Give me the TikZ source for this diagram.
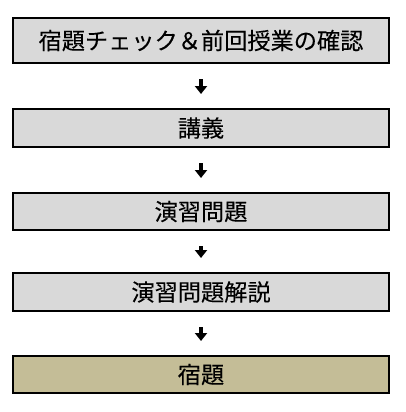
\documentclass[tikz,border=0pt]{standalone}
\usepackage{fontspec}
\newfontfamily\jpfont[FakeBold=0.15]{Noto Sans CJK JP}
\usetikzlibrary{arrows.meta, positioning}
\definecolor{stepgray}{HTML}{D9D9D9}
\definecolor{steptan}{HTML}{C4BD97}

\begin{document}
\begin{tikzpicture}[x=1pt, y=-1pt,
  stepbox/.style={draw, line width=2pt, fill=stepgray, minimum width=376pt,
    minimum height=38pt, inner sep=0pt, font=\jpfont\fontsize{23.2}{26}\selectfont},
  flow/.style={line width=4pt, -{Triangle[width=12pt, length=8pt]},
    shorten <=15pt, shorten >=14pt}
]
  \useasboundingbox (0,0) rectangle (405,412);

  % Steps
  \node[stepbox, minimum height=45pt] (check) at (201, 40.5) {宿題チェック＆前回授業の確認};
  \node[stepbox] (lecture) at (201, 128) {講義};
  \node[stepbox, minimum height=37pt] (exercise) at (201, 211.5) {演習問題};
  \node[stepbox] (review) at (201, 292) {演習問題解説};
  \node[stepbox, minimum height=37pt, fill=steptan] (homework) at (201, 374.5) {宿題};

  % Arrows
  \draw[flow] (check) -- (lecture);
  \draw[flow] (lecture) -- (exercise);
  \draw[flow] (exercise) -- (review);
  \draw[flow] (review) -- (homework);
\end{tikzpicture}
\end{document}
